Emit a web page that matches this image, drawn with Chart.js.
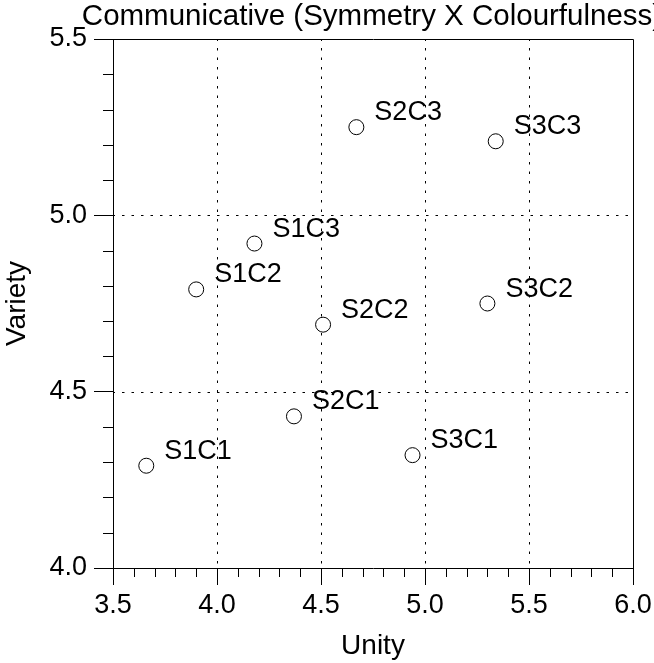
<!DOCTYPE html>
<html>
<head>
<meta charset="utf-8">
<script src="https://cdn.jsdelivr.net/npm/chart.js@4/dist/chart.umd.min.js"></script>
<style>
    html, body { margin: 0; padding: 0; background: #fff; overflow: hidden; }
    #wrap { position: relative; width: 654px; height: 663px; }
</style>
</head>
<body>
<div id="wrap"><canvas id="chart"></canvas></div>
<script>
(function () {
    'use strict';

    // values
    var pointNames = ['S1C1', 'S1C2', 'S1C3', 'S2C1', 'S2C2', 'S2C3', 'S3C1', 'S3C2', 'S3C3'];
    var unityValues = [3.66, 3.90, 4.18, 4.37, 4.51, 4.67, 4.94, 5.30, 5.34];
    var varietyValues = [4.29, 4.79, 4.92, 4.43, 4.69, 5.25, 4.32, 4.75, 5.21];

    var xGridLines = [4.0, 4.5, 5.0, 5.5];
    var yGridLines = [4.5, 5.0];

    var chartTitle = 'Communicative (Symmetry X Colourfulness)';
    var fontFamily = '"Liberation Sans", Arial, Helvetica, sans-serif';

    var points = unityValues.map(function (x, i) {
        return { x: x, y: varietyValues[i] };
    });

    function minorValues(min, max, step) {
        var list = [];
        var n = Math.round((max - min) / step);
        for (var i = 0; i <= n; i++) {
            if (i % 5 !== 0) {
                list.push(min + i * step);
            }
        }
        return list;
    }

    var framePlugin = {
        id: 'frame',
        beforeDatasetsDraw: function (chart) {
            var ctx = chart.ctx;
            var area = chart.chartArea;
            var xs = chart.scales.x;
            var ys = chart.scales.y;

            ctx.save();
            ctx.strokeStyle = '#000';
            ctx.lineWidth = 1;

            // dotted grid
            ctx.setLineDash([2.5, 7]);
            ctx.lineDashOffset = -9;
            xGridLines.forEach(function (v) {
                var px = Math.round(xs.getPixelForValue(v)) + 0.5;
                ctx.beginPath();
                ctx.moveTo(px, area.top);
                ctx.lineTo(px, area.bottom);
                ctx.stroke();
            });
            yGridLines.forEach(function (v) {
                var py = Math.round(ys.getPixelForValue(v)) + 0.5;
                ctx.beginPath();
                ctx.moveTo(area.left, py);
                ctx.lineTo(area.right, py);
                ctx.stroke();
            });
            ctx.setLineDash([]);

            // top and right frame
            ctx.beginPath();
            ctx.moveTo(Math.round(area.left) + 0.5, Math.round(area.top) + 0.5);
            ctx.lineTo(Math.round(area.right) + 0.5, Math.round(area.top) + 0.5);
            ctx.lineTo(Math.round(area.right) + 0.5, Math.round(area.bottom) + 0.5);
            ctx.stroke();

            // minor ticks
            minorValues(3.5, 6.0, 0.1).forEach(function (v) {
                var px = Math.round(xs.getPixelForValue(v)) + 0.5;
                ctx.beginPath();
                ctx.moveTo(px, area.bottom);
                ctx.lineTo(px, area.bottom + 9);
                ctx.stroke();
            });
            minorValues(4.0, 5.5, 0.1).forEach(function (v) {
                var py = Math.round(ys.getPixelForValue(v)) + 0.5;
                ctx.beginPath();
                ctx.moveTo(area.left - 10, py);
                ctx.lineTo(area.left, py);
                ctx.stroke();
            });

            // title, centred over the plot area (runs off the right edge)
            ctx.fillStyle = '#000';
            ctx.font = '29.5px ' + fontFamily;
            ctx.textAlign = 'center';
            ctx.textBaseline = 'alphabetic';
            ctx.fillText(chartTitle, (area.left + area.right) / 2 - 1, 25);
            ctx.restore();
        },
        afterDatasetsDraw: function (chart) {
            var ctx = chart.ctx;
            var meta = chart.getDatasetMeta(0);
            ctx.save();
            ctx.fillStyle = '#000';
            ctx.font = '27px ' + fontFamily;
            ctx.textAlign = 'left';
            ctx.textBaseline = 'alphabetic';
            meta.data.forEach(function (el, i) {
                ctx.fillText(pointNames[i], el.x + 18, el.y - 7);
            });
            ctx.restore();
        }
    };

    new Chart(document.getElementById('chart'), {
        type: 'scatter',
        data: {
            datasets: [{
                data: points,
                pointRadius: 7.5,
                pointHoverRadius: 7.5,
                pointBackgroundColor: '#fff',
                pointBorderColor: '#000',
                pointBorderWidth: 1,
                showLine: false
            }]
        },
        options: {
            responsive: true,
            maintainAspectRatio: false,
            animation: false,
            events: [],
            layout: {
                padding: { top: 39, right: 21, left: 0, bottom: 0 }
            },
            plugins: {
                legend: { display: false },
                tooltip: { enabled: false }
            },
            scales: {
                x: {
                    type: 'linear',
                    min: 3.5,
                    max: 6.0,
                    afterFit: function (scale) {
                        scale.height = 95;
                        scale.paddingLeft = 0;
                        scale.paddingRight = 0;
                    },
                    ticks: {
                        stepSize: 0.5,
                        color: '#000',
                        padding: 4,
                        font: { family: fontFamily, size: 27 },
                        callback: function (v) { return Number(v).toFixed(1); }
                    },
                    grid: {
                        drawOnChartArea: false,
                        drawTicks: true,
                        tickLength: 17,
                        tickColor: '#000',
                        color: '#000'
                    },
                    border: { display: true, color: '#000', width: 1 },
                    title: {
                        display: true,
                        text: 'Unity',
                        color: '#000',
                        padding: 0,
                        font: { family: fontFamily, size: 28 }
                    }
                },
                y: {
                    type: 'linear',
                    min: 4.0,
                    max: 5.5,
                    afterFit: function (scale) {
                        scale.width = 113;
                        scale.paddingTop = 0;
                        scale.paddingBottom = 0;
                    },
                    ticks: {
                        stepSize: 0.5,
                        color: '#000',
                        padding: 7,
                        font: { family: fontFamily, size: 27 },
                        callback: function (v) { return Number(v).toFixed(1); }
                    },
                    grid: {
                        drawOnChartArea: false,
                        drawTicks: true,
                        tickLength: 19,
                        tickColor: '#000',
                        color: '#000'
                    },
                    border: { display: true, color: '#000', width: 1 },
                    title: {
                        display: true,
                        text: 'Variety',
                        color: '#000',
                        padding: 0,
                        font: { family: fontFamily, size: 28 }
                    }
                }
            }
        },
        plugins: [framePlugin]
    });
})();
</script>
</body>
</html>
